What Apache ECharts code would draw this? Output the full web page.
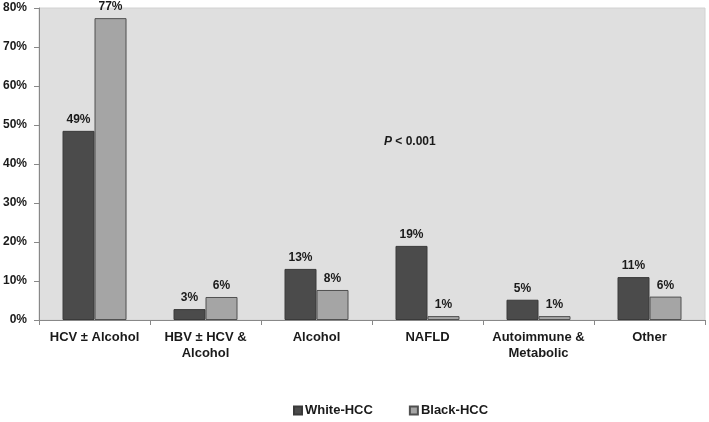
<!DOCTYPE html>
<html>
<head>
<meta charset="utf-8">
<script src="https://cdn.jsdelivr.net/npm/echarts@6/dist/echarts.min.js"></script>
<style>
html, body { margin: 0; padding: 0; background: #fff; }
#chart { width: 709px; height: 422px; }
</style>
</head>
<body>
<div id="chart"></div>
<script>
var categories = ['HCV ± Alcohol', 'HBV ± HCV &\nAlcohol', 'Alcohol', 'NAFLD', 'Autoimmune &\nMetabolic', 'Other'];
var whiteHCC = [48.5, 2.8, 13.1, 19, 5.2, 11];
var blackHCC = [77.4, 5.9, 7.7, 1, 1, 6];
var yTicks = [0, 10, 20, 30, 40, 50, 60, 70, 80];

var myChart = echarts.init(document.getElementById('chart'));
var font = '"Liberation Sans", Arial, sans-serif';

var labelStyle = {
    show: true,
    position: 'top',
    distance: 5,
    color: '#1a1a1a',
    fontFamily: font,
    fontWeight: 'bold',
    fontSize: 12,
    formatter: function (p) { return Math.round(p.value) + '%'; }
};

var option = {
    animation: false,
    grid: {
        left: 38, right: 4, top: 8, bottom: 102,
        show: true,
        backgroundColor: '#dfdfdf',
        borderColor: '#d2d2d2',
        borderWidth: 1
    },
    legend: {
        bottom: 0,
        left: 288,
        itemWidth: 8,
        itemHeight: 8,
        itemGap: 36,
        icon: 'rect',
        textStyle: { color: '#1a1a1a', fontFamily: font, fontWeight: 'bold', fontSize: 13, padding: [0, 0, 0, -2] },
        data: ['White-HCC', 'Black-HCC']
    },
    graphic: [{
        type: 'text',
        left: 384,
        top: 136,
        style: {
            text: '{i|P} < 0.001',
            font: 'bold 12px ' + font,
            fill: '#1a1a1a',
            rich: {
                i: { fontStyle: 'italic', fontWeight: 'bold', fontSize: 12, fontFamily: font, fill: '#1a1a1a' }
            }
        }
    }],
    xAxis: {
        type: 'category',
        data: categories,
        axisLine: { lineStyle: { color: '#888' } },
        axisTick: { show: true, alignWithLabel: false, length: 5, lineStyle: { color: '#888' } },
        axisLabel: {
            color: '#1a1a1a', fontFamily: font, fontWeight: 'bold', fontSize: 13,
            margin: 9, lineHeight: 16, interval: 0
        }
    },
    yAxis: {
        type: 'value',
        min: 0, max: 80, interval: 10,
        axisLine: { show: true, lineStyle: { color: '#888' } },
        axisTick: { show: true, length: 5, lineStyle: { color: '#888' } },
        splitLine: { show: false },
        axisLabel: {
            color: '#1a1a1a', fontFamily: font, fontWeight: 'bold', fontSize: 12, margin: 12,
            formatter: function (v) { return yTicks.indexOf(v) >= 0 ? v + '%' : ''; }
        }
    },
    series: [{
        name: 'White-HCC',
        type: 'bar',
        data: whiteHCC,
        barWidth: 32,
        barGap: '0%',
        itemStyle: { color: '#4b4b4b', borderColor: '#3a3a3a', borderWidth: 1 },
        label: labelStyle
    }, {
        name: 'Black-HCC',
        type: 'bar',
        data: blackHCC,
        barWidth: 32,
        barGap: '0%',
        itemStyle: { color: '#a5a5a5', borderColor: '#505050', borderWidth: 1 },
        label: labelStyle
    }]
};

myChart.setOption(option);
</script>
</body>
</html>
